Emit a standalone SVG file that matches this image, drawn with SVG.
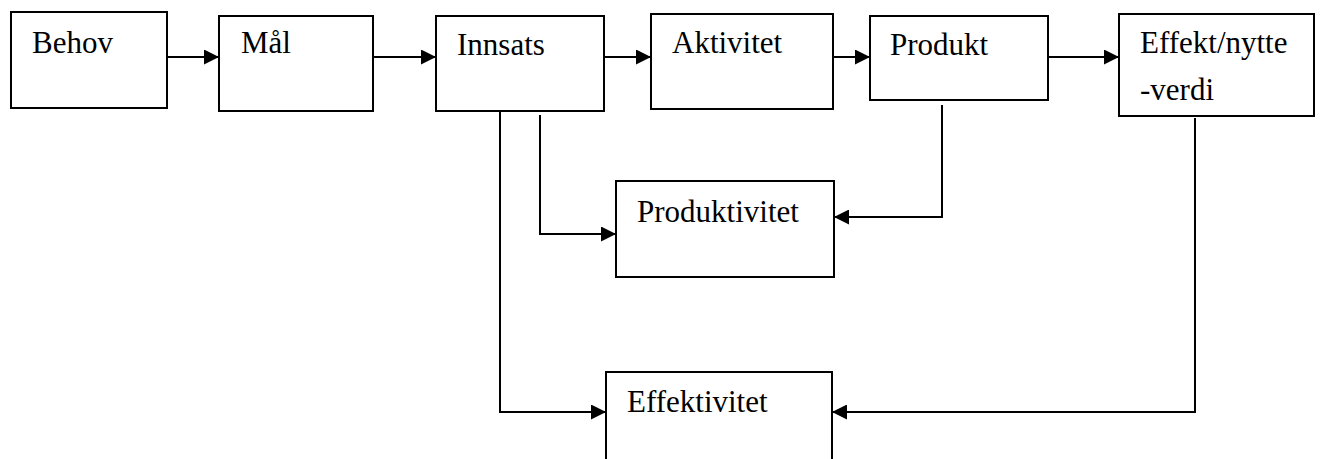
<svg xmlns="http://www.w3.org/2000/svg" width="1320" height="459" viewBox="0 0 1320 459">
<style>
.box{fill:#fff;stroke:#000;stroke-width:2}
.lbl{font-size:31px;fill:#000}
.con{fill:none;stroke:#000;stroke-width:2;marker-end:url(#ah)}
</style>
<defs>
<marker id="ah" markerUnits="userSpaceOnUse" markerWidth="15" markerHeight="15" refX="15" refY="7.5" orient="auto">
<path d="M0,0 L15,7.5 L0,15 z" fill="#000"/>
</marker>
</defs>
<rect width="1320" height="459" fill="#fff"/>
<g id="connectors">
<path class="con" d="M167,57 H219"/>
<path class="con" d="M373,57 H436"/>
<path class="con" d="M604,57 H651"/>
<path class="con" d="M833,57 H870"/>
<path class="con" d="M1048,57 H1119"/>
<path class="con" d="M942,105 V217 H834"/>
<path class="con" d="M540,115 V234 H616"/>
<path class="con" d="M500,105 V412 H606"/>
<path class="con" d="M1195,118 V412 H832"/>
</g>
<g font-family="Liberation Serif, DejaVu Serif, serif">
<g id="behov"><rect class="box" x="11" y="12" width="156" height="96"/><text class="lbl" x="32" y="53">Behov</text></g>
<g id="maal"><rect class="box" x="219" y="16" width="154" height="95"/><text class="lbl" x="241" y="53">Mål</text></g>
<g id="innsats"><rect class="box" x="436" y="16" width="168" height="95"/><text class="lbl" x="457" y="55">Innsats</text></g>
<g id="aktivitet"><rect class="box" x="651" y="14" width="182" height="95"/><text class="lbl" x="672" y="53">Aktivitet</text></g>
<g id="produkt"><rect class="box" x="870" y="16" width="178" height="84"/><text class="lbl" x="890" y="55">Produkt</text></g>
<g id="effekt"><rect class="box" x="1119" y="14" width="195" height="102"/><text class="lbl" x="1140" y="53">Effekt/nytte</text><text class="lbl" x="1140" y="100">-verdi</text></g>
<g id="produktivitet"><rect class="box" x="616" y="181" width="218" height="96"/><text class="lbl" x="637" y="222">Produktivitet</text></g>
<g id="effektivitet"><rect class="box" x="606" y="372" width="226" height="100"/><text class="lbl" x="627" y="412">Effektivitet</text></g>
</g>
</svg>
